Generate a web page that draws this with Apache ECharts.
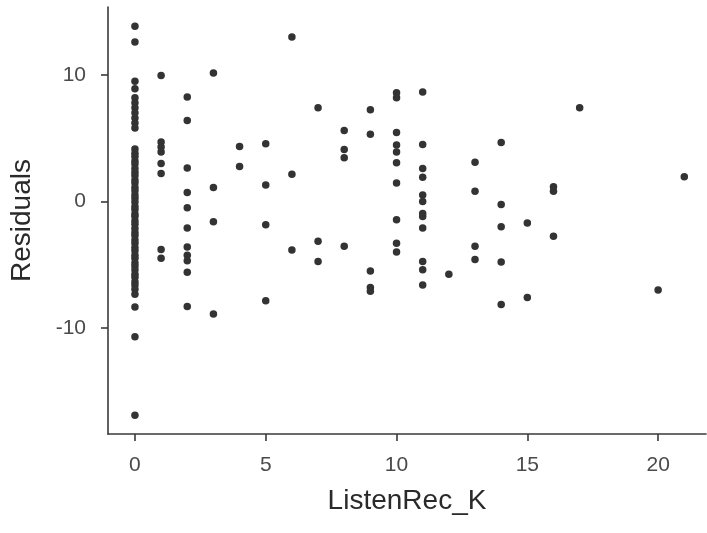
<!DOCTYPE html>
<html>
<head>
<meta charset="utf-8">
<title>Residuals vs ListenRec_K</title>
<script src="https://cdn.jsdelivr.net/npm/echarts@6/dist/echarts.min.js"></script>
<style>
  html, body { margin: 0; padding: 0; background: #ffffff; }
  #chart { width: 707px; height: 533px; }
</style>
</head>
<body>
<div id="chart"></div>
<script>
// Predictor levels (ListenRec_K) and the residuals observed at each level
const listenRecLevels = [0, 1, 2, 3, 4, 5, 6, 7, 8, 9, 10, 11, 12, 13, 14, 15, 16, 17, 20, 21];

const residualsByLevel = [
  // 0
  [13.85, 12.6, 9.5, 8.9, 8.2, 7.8, 7.4, 7.0, 6.6, 6.2, 5.8,
   4.15, 3.8, 3.55, 3.2, 2.95, 2.6, 2.3, 2.05, 1.7, 1.45, 1.1, 0.85, 0.5, 0.25,
   -0.05, -0.4, -0.65, -1.0, -1.2, -1.55, -1.8, -2.15, -2.45, -2.7, -3.05, -3.3,
   -3.65, -3.9, -4.25, -4.5, -4.85, -5.1, -5.4, -5.75, -6.0, -6.35, -6.6, -6.95,
   -7.35, -8.35, -10.7, -16.9],
  // 1
  [9.95, 4.7, 4.3, 3.9, 3.0, 2.2, -3.8, -4.5],
  // 2
  [8.25, 6.4, 2.65, 0.7, -0.5, -2.1, -3.6, -4.25, -4.7, -5.6, -8.3],
  // 3
  [10.15, 1.1, -1.6, -8.9],
  // 4
  [4.35, 2.75],
  // 5
  [4.55, 1.3, -1.85, -7.85],
  // 6
  [13.0, 2.15, -3.85],
  // 7
  [7.4, -3.15, -4.75],
  // 8
  [5.6, 4.1, 3.45, -3.55],
  // 9
  [7.25, 5.3, -5.5, -6.8, -7.1],
  // 10
  [8.6, 8.2, 5.45, 4.45, 3.9, 3.05, 1.45, -1.45, -3.3, -4.0],
  // 11
  [8.65, 4.5, 2.6, 1.9, 0.5, 0.0, -0.95, -1.2, -2.1, -4.75, -5.4, -6.6],
  // 12
  [-5.75],
  // 13
  [3.1, 0.8, -3.55, -4.6],
  // 14
  [4.65, -0.25, -2.0, -4.8, -8.15],
  // 15
  [-1.7, -7.6],
  // 16
  [1.15, 0.8, -2.75],
  // 17
  [7.4],
  // 20
  [-7.0],
  // 21
  [1.95]
];

const xTickValues = [0, 5, 10, 15, 20];
const yTickValues = [-10, 0, 10];

// Flatten into [x, y] pairs for the scatter series
const points = [];
listenRecLevels.forEach(function (lvl, i) {
  residualsByLevel[i].forEach(function (r) { points.push([lvl, r]); });
});

const FONT = '"Liberation Sans", Arial, Helvetica, sans-serif';
const axisLineStyle = { color: '#3a3a3a', width: 1.6 };

const chart = echarts.init(document.getElementById('chart'), null, { renderer: 'canvas' });

chart.setOption({
  animation: false,
  backgroundColor: '#ffffff',
  grid: { left: 107, top: 7, right: 1, bottom: 99, containLabel: false },
  xAxis: {
    type: 'value',
    min: -1.03,
    max: 21.83,
    name: 'ListenRec_K',
    nameLocation: 'middle',
    nameGap: 53,
    nameTextStyle: { fontFamily: FONT, fontSize: 28, color: '#2a2a2a' },
    axisLine: { show: true, onZero: false, lineStyle: axisLineStyle },
    axisTick: { show: true, length: 7, customValues: xTickValues, lineStyle: axisLineStyle },
    axisLabel: {
      customValues: xTickValues,
      margin: 21,
      fontFamily: FONT,
      fontSize: 21,
      color: '#4a4a4a'
    },
    splitLine: { show: false }
  },
  yAxis: {
    type: 'value',
    min: -18.39,
    max: 15.37,
    name: 'Residuals',
    nameLocation: 'middle',
    nameGap: 72,
    nameRotate: 90,
    nameTextStyle: { fontFamily: FONT, fontSize: 28, color: '#2a2a2a' },
    axisLine: { show: true, onZero: false, lineStyle: axisLineStyle },
    axisTick: { show: true, length: 7, customValues: yTickValues, lineStyle: axisLineStyle },
    axisLabel: {
      customValues: yTickValues,
      margin: 22,
      fontFamily: FONT,
      fontSize: 21,
      color: '#4a4a4a'
    },
    splitLine: { show: false }
  },
  series: [{
    type: 'scatter',
    data: points,
    symbol: 'circle',
    symbolSize: 7.5,
    itemStyle: { color: '#333333', opacity: 1 },
    emphasis: { disabled: true }
  }]
});
</script>
</body>
</html>
